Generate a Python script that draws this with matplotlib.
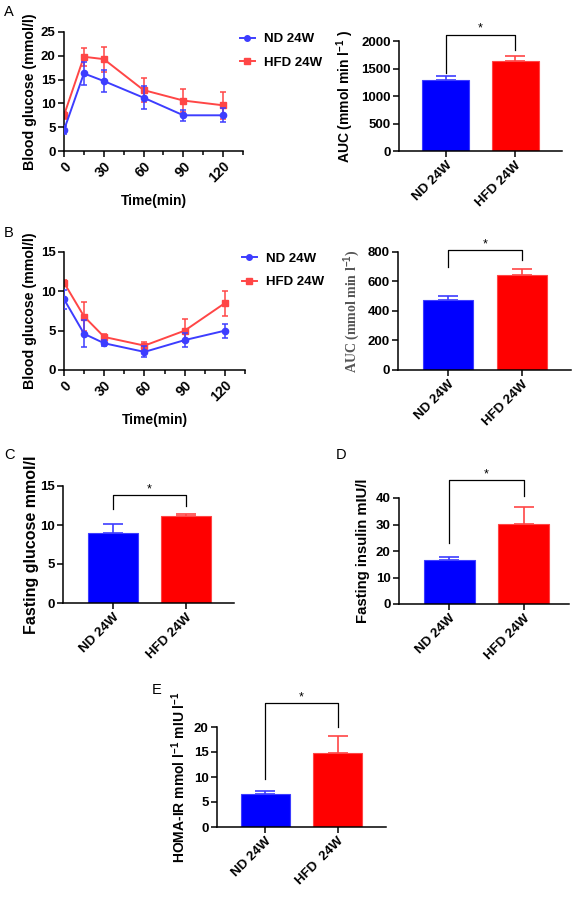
import matplotlib
matplotlib.use("Agg")
import matplotlib.pyplot as plt
from matplotlib.lines import Line2D
import numpy as np

plt.rcParams['font.family'] = ['Liberation Sans', 'DejaVu Sans']
plt.rcParams['font.weight'] = 'bold'
plt.rcParams['mathtext.fontset'] = 'custom'
plt.rcParams['mathtext.rm'] = 'Liberation Sans:bold'
plt.rcParams['mathtext.default'] = 'rm'

# ---------------- data ----------------
time_pts = [0, 15, 30, 60, 90, 120]
time_ticks = [0, 30, 60, 90, 120]
groups = ["ND 24W", "HFD 24W"]
groups_e = ["ND 24W", "HFD  24W"]

# A: glucose tolerance
gtt_nd = [4.4, 16.3, 14.7, 11.2, 7.5, 7.5]
gtt_nd_err = [0.9, 2.4, 2.4, 2.4, 1.2, 1.5]
gtt_hfd = [7.5, 19.8, 19.3, 12.8, 10.6, 9.6]
gtt_hfd_err = [0.7, 1.9, 2.6, 2.6, 2.5, 2.8]
auc_a = [1300, 1640]
auc_a_err = [62, 90]

# B: insulin tolerance
itt_nd = [9.0, 4.6, 3.4, 2.3, 3.8, 5.0]
itt_nd_err = [1.2, 1.7, 0.4, 0.7, 0.9, 0.9]
itt_hfd = [11.1, 6.8, 4.2, 3.1, 5.0, 8.5]
itt_hfd_err = [0.3, 1.8, 0.4, 0.5, 1.5, 1.6]
auc_b = [475, 645]
auc_b_err = [30, 43]

# C, D, E
fglu = [9.0, 11.1]
fglu_err = [1.1, 0.3]
fins = [16.5, 30.2]
fins_err = [1.2, 6.5]
homa = [6.6, 14.9]
homa_err = [0.7, 3.4]

W, H = 578, 902
fig = plt.figure(figsize=(W / 100, H / 100), dpi=100)

BLUE = '#0000ff'
RED = '#ff0000'
LBLUE = '#3d3dff'
LRED = '#ff4646'
TFS = 9.5


def ax_px(x0, x1, ytop, ybot):
    return fig.add_axes([x0 / W, 1 - ybot / H, (x1 - x0) / W, (ybot - ytop) / H])


def style(ax):
    for s in ['top', 'right']:
        ax.spines[s].set_visible(False)
    for s in ['left', 'bottom']:
        ax.spines[s].set_linewidth(1.1)
    ax.tick_params(direction='out', length=4, width=1.1, labelsize=TFS, pad=2)
    for lab in ax.get_yticklabels():
        lab.set_fontweight('bold')


def line_panel(ax, nd, nde, hfd, hfde, ymax, yticks, legend_y):
    ax.errorbar(time_pts, nd, yerr=nde, color=LBLUE, marker='o', ms=4.5,
                lw=1.4, capsize=2.2, elinewidth=1.1, capthick=1.1, zorder=3)
    ax.errorbar(time_pts, hfd, yerr=hfde, color=LRED, marker='s', ms=4.5,
                lw=1.4, capsize=2.2, elinewidth=1.1, capthick=1.1, zorder=2)
    ax.set_xlim(0, 135)
    ax.set_ylim(0, ymax)
    ax.set_yticks(yticks)
    ax.set_xticks(time_ticks)
    ax.set_xticks([15, 45, 75, 105, 135], minor=True)
    style(ax)
    ax.tick_params(axis='x', which='minor', length=3, width=1.1)
    ax.set_xticklabels([str(t) for t in time_ticks], rotation=45, ha='right',
                       rotation_mode='anchor', fontweight='bold', fontsize=TFS + 0.5)
    ax.set_ylabel('Blood glucose (mmol/l)', fontsize=10.2, fontweight='bold', labelpad=3)
    ax.set_xlabel('Time(min)', fontsize=10, fontweight='bold', labelpad=6)
    handles = [Line2D([], [], color=LBLUE, marker='o', ms=4, lw=1.4),
               Line2D([], [], color=LRED, marker='s', ms=4, lw=1.4)]
    leg = ax.legend(handles, ['ND 24W', 'HFD 24W'], loc='upper left',
                    bbox_to_anchor=(0.955, legend_y), frameon=False,
                    fontsize=9.5, handlelength=1.1, handletextpad=0.7,
                    labelspacing=0.85, borderaxespad=0)
    for t in leg.get_texts():
        t.set_fontweight('bold')


def bar_panel(ax, vals, errs, ymax, yticks, xlim, width, labels, bracket, ylabel,
              ylabel_kw=None):
    x = np.arange(len(vals))
    ax.bar(x, vals, width=width, color=[BLUE, RED], edgecolor=[LBLUE, LRED],
           linewidth=0.8, zorder=2)
    ax.errorbar(x[0], vals[0], yerr=[[0], [errs[0]]], color=LBLUE, capsize=7,
                elinewidth=1.2, capthick=1.2, fmt='none', zorder=1)
    ax.errorbar(x[1], vals[1], yerr=[[0], [errs[1]]], color=LRED, capsize=7,
                elinewidth=1.2, capthick=1.2, fmt='none', zorder=1)
    ax.set_xlim(*xlim)
    ax.set_ylim(0, ymax)
    ax.set_yticks(yticks)
    ax.set_xticks(x)
    style(ax)
    ax.set_xticklabels(labels, rotation=45, ha='right', rotation_mode='anchor',
                       fontweight='bold', fontsize=TFS)
    by, l1, r1 = bracket
    ax.plot([0, 0, 1, 1], [l1, by, by, r1], color='black', lw=0.9, clip_on=False)
    ax.text(0.5, by, '*', ha='center', va='bottom', fontsize=9, fontweight='normal')
    kw = dict(fontsize=9.5, fontweight='bold')
    if ylabel_kw:
        kw.update(ylabel_kw)
    ax.set_ylabel(ylabel, **kw)


# ---- Panel A ----
axA = ax_px(64, 243, 32, 151)
line_panel(axA, gtt_nd, gtt_nd_err, gtt_hfd, gtt_hfd_err, 25, [0, 5, 10, 15, 20, 25], 1.035)
axA2 = ax_px(399, 562, 41, 151)
bar_panel(axA2, auc_a, auc_a_err, 2000, [0, 500, 1000, 1500, 2000], (-0.68, 1.68), 0.68,
          groups, (2115, 1420, 1830), 'AUC (mmol min l$^{-1}$ )',
          ylabel_kw=dict(fontsize=10))

# ---- Panel B ----
axB = ax_px(64, 245, 252, 370)
line_panel(axB, itt_nd, itt_nd_err, itt_hfd, itt_hfd_err, 15, [0, 5, 10, 15], 1.04)
axB2 = ax_px(398, 571, 252, 370)
bar_panel(axB2, auc_b, auc_b_err, 800, [0, 200, 400, 600, 800], (-0.68, 1.66), 0.68,
          groups, (811, 700, 743), 'AUC (mmol min l$^{-1}$)',
          ylabel_kw=dict(family=['Liberation Serif'], color='#555555', fontsize=10))

# ---- Panel C ----
axC = ax_px(63, 234, 486, 603)
bar_panel(axC, fglu, fglu_err, 15, [0, 5, 10, 15], (-0.68, 1.66), 0.68,
          groups, (13.8, 12.1, 12.5), 'Fasting glucose mmol/l',
          ylabel_kw=dict(fontsize=11.5, labelpad=1))

# ---- Panel D ----
axD = ax_px(399, 569, 498, 604)
bar_panel(axD, fins, fins_err, 40, [0, 10, 20, 30, 40], (-0.68, 1.61), 0.69,
          groups, (46.7, 23, 40.9), 'Fasting insulin mIU/l',
          ylabel_kw=dict(fontsize=10.7))

# ---- Panel E ----
axE = ax_px(217, 386, 727, 827)
bar_panel(axE, homa, homa_err, 20, [0, 5, 10, 15, 20], (-0.67, 1.67), 0.68,
          groups_e, (24.8, 9.7, 20.1), 'HOMA-IR mmol l$^{-1}$ mIU l$^{-1}$',
          ylabel_kw=dict(fontsize=10))

# panel letters
for letter, (px, py) in {'A': (4, 12), 'B': (4, 233), 'C': (4, 455), 'D': (336, 455),
                         'E': (152, 690)}.items():
    fig.text(px / W, 1 - py / H, letter, fontsize=10.5, fontweight='normal',
             ha='left', va='center')

fig.savefig('out.png', dpi=100)
